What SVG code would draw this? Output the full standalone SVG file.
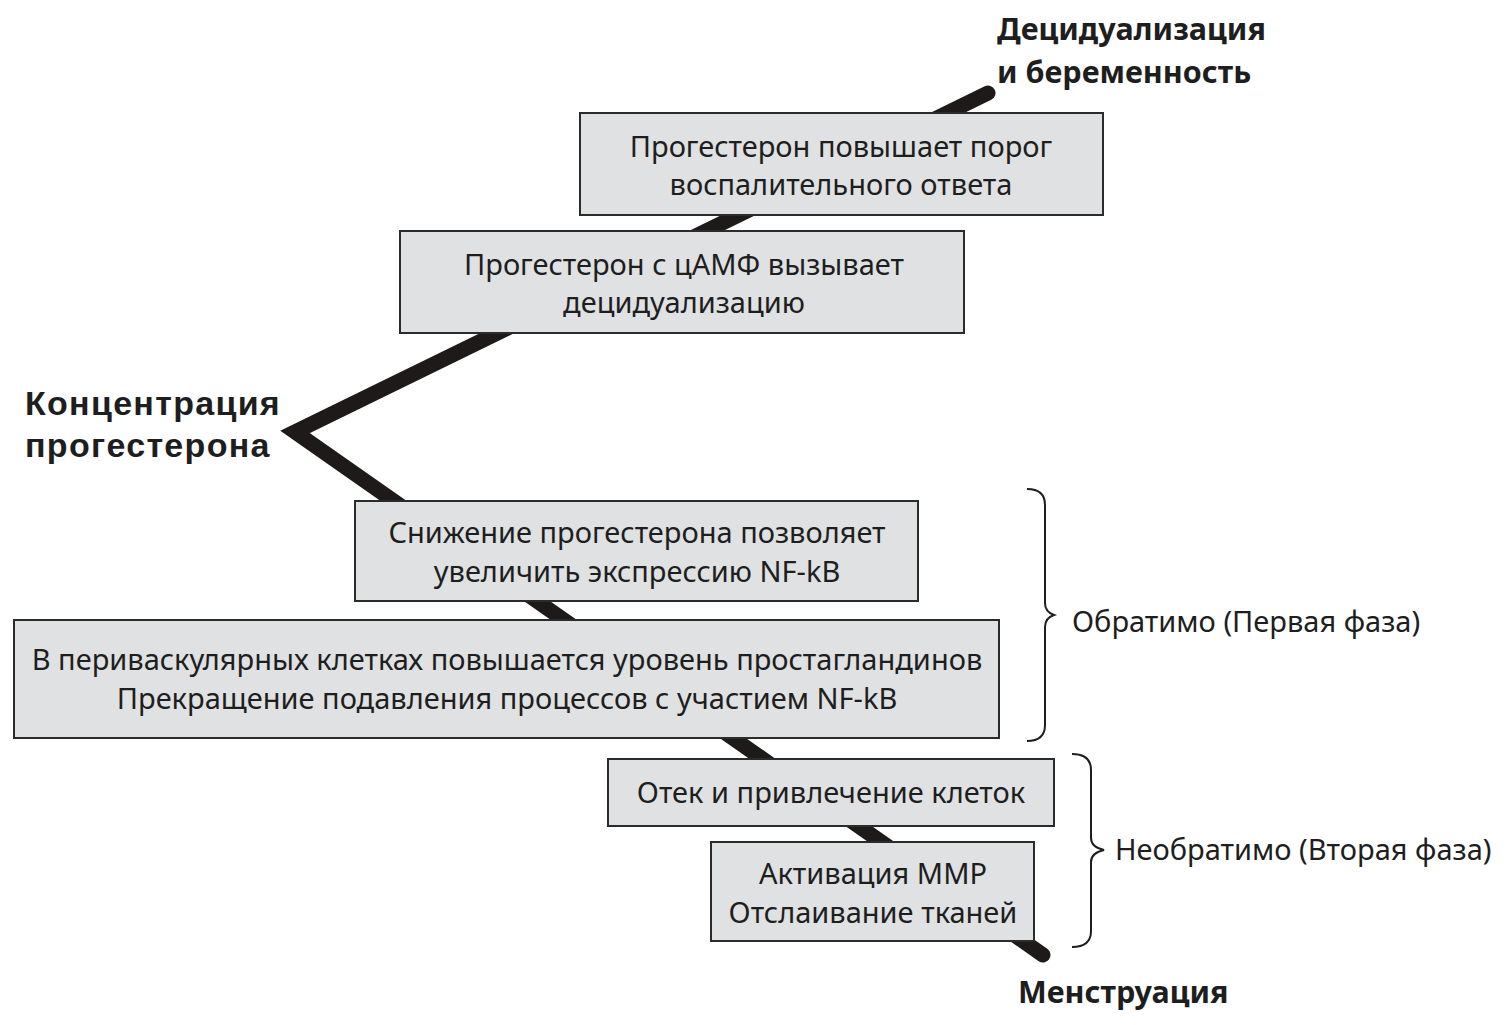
<svg xmlns="http://www.w3.org/2000/svg" width="1506" height="1025" viewBox="0 0 1506 1025">
<style>
.box{fill:#e0e1e2;stroke:#2b2b2b;stroke-width:2}
.t{font-family:"Noto Sans","Open Sans",sans-serif;font-size:29px;fill:#1e1e1e;text-anchor:middle}
.b{font-family:"Noto Sans","Open Sans",sans-serif;font-size:30.5px;font-weight:bold;fill:#1e1e1e}
.bl{font-family:"Liberation Sans",Arial,sans-serif;font-size:34px;font-weight:bold;fill:#1e1e1e;letter-spacing:1.3px}
.l{font-family:"Noto Sans","Open Sans",sans-serif;font-size:29px;fill:#1e1e1e}
.br{fill:none;stroke:#1e1e1e;stroke-width:2}
</style>
<rect width="1506" height="1025" fill="#fff"/>
<g id="connectors">
<polyline points="988,93 295,432 1043,955" fill="none" stroke="#1e1a1a" stroke-width="15" stroke-linecap="round" stroke-linejoin="miter"/>
<path class="br" d="M1027,489 Q1045,489 1045,505 L1045,603 Q1045,612 1054,615 Q1045,618 1045,627 L1045,725 Q1045,741 1027,741"/>
<path class="br" d="M1072,754 Q1091,754 1091,770 L1091,838 Q1091,847 1104,850 Q1091,853 1091,862 L1091,931 Q1091,947 1072,947"/>
</g>
<g id="label-top"><text class="b" x="997" y="40">Децидуализация</text><text class="b" x="997" y="83">и беременность</text></g>
<g id="label-left"><text class="bl" x="25" y="415">Концентрация</text><text class="bl" x="25" y="457">прогестерона</text></g>
<g id="label-bottom"><text class="b" x="1018" y="1003">Менструация</text></g>
<g id="node1"><rect class="box" x="580" y="113" width="523" height="102"/><text class="t" x="841" y="157">Прогестерон повышает порог</text><text class="t" x="841" y="195">воспалительного ответа</text></g>
<g id="node2"><rect class="box" x="400" y="231" width="564" height="102"/><text class="t" x="684" y="275">Прогестерон с цАМФ вызывает</text><text class="t" x="684" y="313">децидуализацию</text></g>
<g id="node3"><rect class="box" x="355" y="501" width="563" height="100"/><text class="t" x="637" y="543">Снижение прогестерона позволяет</text><text class="t" x="637" y="582">увеличить экспрессию NF-kB</text></g>
<g id="node4"><rect class="box" x="14" y="620" width="985" height="118"/><text class="t" x="507" y="670">В периваскулярных клетках повышается уровень простагландинов</text><text class="t" x="507" y="709">Прекращение подавления процессов с участием NF-kB</text></g>
<g id="node5"><rect class="box" x="608" y="759" width="446" height="67"/><text class="t" x="831" y="803">Отек и привлечение клеток</text></g>
<g id="node6"><rect class="box" x="711" y="842" width="323" height="99"/><text class="t" x="873" y="884">Активация ММР</text><text class="t" x="873" y="923">Отслаивание тканей</text></g>
<g id="label-phase1"><text class="l" x="1072" y="632">Обратимо (Первая фаза)</text></g>
<g id="label-phase2"><text class="l" x="1115" y="860">Необратимо (Вторая фаза)</text></g>
</svg>
